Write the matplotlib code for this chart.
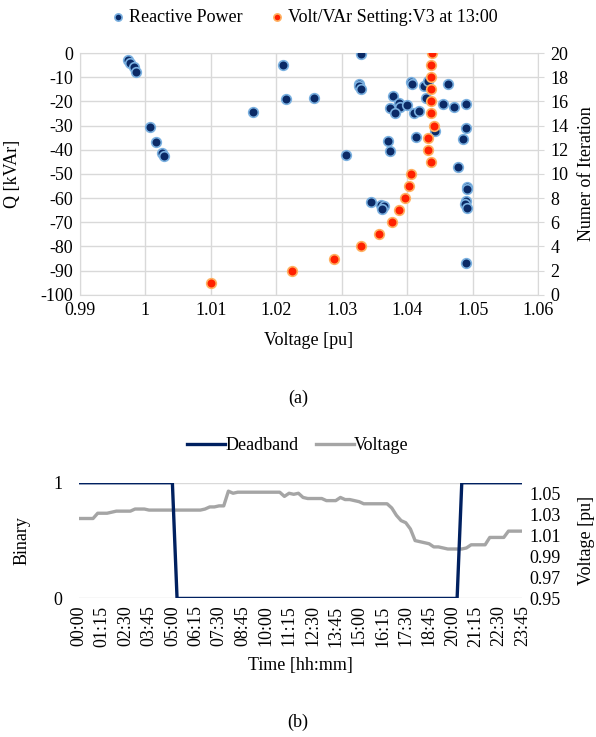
import matplotlib
matplotlib.use("Agg")
import matplotlib.pyplot as plt
import numpy as np

plt.rcParams['font.family'] = ['Liberation Serif', 'DejaVu Serif']
plt.rcParams['font.size'] = 13
plt.rcParams['axes.unicode_minus'] = False

# (a) reactive power vs voltage
q_volt = [0.9973, 0.9976, 0.9982, 0.9985, 1.0007, 1.0016, 1.0026, 1.0028,
          1.0164, 1.0210, 1.0215, 1.0257, 1.0307, 1.0329, 1.0326, 1.0327, 1.0329,
          1.0345, 1.0360, 1.0364, 1.0362, 1.0371, 1.0373,
          1.0378, 1.0374, 1.0388, 1.0389, 1.0382, 1.0400, 1.0411, 1.0418,
          1.0406, 1.0408, 1.0425, 1.0431, 1.0429, 1.0462, 1.0455, 1.0472,
          1.0489, 1.0442, 1.0413, 1.0489, 1.0485,
          1.0477, 1.0491, 1.0492, 1.0489, 1.0488, 1.0492, 1.0489]
q_kvar = [-3.0, -4.0, -5.8, -8.0, -30.4, -36.6, -41.3, -42.5,
          -24.3, -5.1, -19.1, -18.4, -42.2, -0.5, -12.6, -13.7, -14.9,
          -61.6, -63.0, -63.3, -64.6, -36.5, -40.5,
          -17.6, -22.7, -20.6, -22.3, -24.8, -21.3, -25.0, -23.8,
          -12.0, -12.9, -13.7, -11.5, -18.4, -13.0, -20.9, -22.3,
          -21.2, -32.2, -34.7, -31.0, -35.5,
          -47.0, -55.3, -56.4, -61.1, -62.6, -64.0, -86.9]

iteration = list(range(1, 21))
iter_volt = [1.0100, 1.0224, 1.0288, 1.0330, 1.0357, 1.0376, 1.0388, 1.0396,
             1.0402, 1.0405, 1.0436, 1.0431, 1.0431, 1.0441, 1.0436, 1.0436,
             1.0436, 1.0436, 1.0436, 1.0438]

# (b) deadband and voltage over the day
times = ["%02d:%02d" % (h, m) for h in range(24) for m in (0, 15, 30, 45)]
deadband = [1] * 21 + [0] * 61 + [1] * 14
voltage = [1.026, 1.026, 1.026, 1.026, 1.031, 1.031, 1.031, 1.032,
           1.033, 1.033, 1.033, 1.033, 1.035, 1.035, 1.035, 1.034,
           1.034, 1.034, 1.034, 1.034, 1.034, 1.034, 1.034, 1.034,
           1.034, 1.034, 1.034, 1.035, 1.037, 1.037, 1.038, 1.038,
           1.052, 1.050, 1.051, 1.051, 1.051, 1.051, 1.051, 1.051,
           1.051, 1.051, 1.051, 1.051, 1.047, 1.050, 1.049, 1.050,
           1.046, 1.045, 1.045, 1.045, 1.045, 1.043, 1.043, 1.043,
           1.046, 1.044, 1.044, 1.043, 1.042, 1.040, 1.040, 1.040,
           1.040, 1.040, 1.040, 1.036, 1.029, 1.024, 1.022, 1.016,
           1.005, 1.004, 1.003, 1.002, 0.999, 0.999, 0.998, 0.997,
           0.997, 0.997, 0.997, 0.998, 1.001, 1.001, 1.001, 1.001,
           1.008, 1.008, 1.008, 1.008, 1.014, 1.014, 1.014, 1.014]

grid_c = '#d9d9d9'
navy = '#002060'

fig = plt.figure(figsize=(5.96, 7.37), dpi=100)

# ---- top chart
ax1 = fig.add_axes([0.134, 0.600, 0.769, 0.328])
ax1.scatter(q_volt, q_kvar, s=48, color='#0b2a66', edgecolors='#7ab0e0',
            linewidths=1.2, zorder=3, label='Reactive Power')
ax1.set_xlim(0.99, 1.06)
ax1.set_ylim(-100, 0)
ax1.set_xticks(np.arange(0.99, 1.0601, 0.01))
ax1.set_xticklabels(['0.99', '1', '1.01', '1.02', '1.03', '1.04', '1.05', '1.06'])
ax1.set_yticks(np.arange(-100, 1, 10))
ax1.grid(True, color=grid_c, linewidth=1)
ax1.set_axisbelow(True)
for s in ax1.spines.values():
    s.set_color(grid_c)
ax1.tick_params(length=0, pad=5)
ax1.set_xlabel('Voltage [pu]', va='center')
ax1.xaxis.set_label_coords(0.5, -0.19)
ax1.set_ylabel('Q [kVAr]', va='center')
ax1.yaxis.set_label_coords(-0.148, 0.5)

ax1b = ax1.twinx()
ax1b.scatter(iter_volt, iteration, s=48, color='#ff2000', edgecolors='#ffb060',
             linewidths=1.2, zorder=4, label='Volt/VAr Setting:V3 at 13:00')
ax1b.set_ylim(0, 20)
ax1b.set_yticks(range(0, 21, 2))
ax1b.tick_params(length=4, color=grid_c, pad=5)
for s in ax1b.spines.values():
    s.set_visible(False)
ax1b.set_ylabel('Numer of Iteration', va='center')
ax1b.yaxis.set_label_coords(1.106, 0.5)

h1, l1 = ax1.get_legend_handles_labels()
h2, l2 = ax1b.get_legend_handles_labels()
fig.legend(h1 + h2, l1 + l2, loc='center', bbox_to_anchor=(0.51, 0.976), ncol=2,
           frameon=False, handlelength=0.8, handletextpad=0.2, columnspacing=1.5,
           markerscale=0.75)

fig.text(0.5, 0.46, '(a)', ha='center', va='center', fontsize=13)

# ---- bottom chart
x = np.arange(len(times))
ax2 = fig.add_axes([0.1326, 0.188, 0.744, 0.157])
ax2.plot(x, deadband, color=navy, linewidth=2.4, label='Deadband', zorder=3)
ax2.set_ylim(0, 1)
ax2.set_yticks([0, 1])
ax2.set_xlim(0, len(times) - 1)
ax2.set_xticks(x[::5])
ax2.set_xticklabels(times[::5], rotation=90)
ax2.grid(True, axis='y', color=grid_c, linewidth=1)
ax2.set_axisbelow(True)
for s in ax2.spines.values():
    s.set_visible(False)
ax2.tick_params(length=0, pad=5)
ax2.tick_params(axis='y', pad=12)
ax2.set_xlabel('Time [hh:mm]', va='center')
ax2.xaxis.set_label_coords(0.5, -0.58)
ax2.set_ylabel('Binary', va='center')
ax2.yaxis.set_label_coords(-0.128, 0.5)

ax2b = ax2.twinx()
ax2b.plot(x, voltage, color='#a5a5a5', linewidth=2.4, label='Voltage', zorder=2)
ax2b.set_ylim(0.95, 1.06)
ax2b.set_yticks(np.arange(0.95, 1.051, 0.02))
ax2b.set_yticklabels(['0.95', '0.97', '0.99', '1.01', '1.03', '1.05'])
for s in ax2b.spines.values():
    s.set_visible(False)
ax2b.tick_params(length=0, pad=5)
ax2b.set_ylabel('Voltage [pu]', va='center')
ax2b.yaxis.set_label_coords(1.145, 0.5)
ax2.set_zorder(ax2b.get_zorder() + 1)
ax2.patch.set_visible(False)

h1, l1 = ax2.get_legend_handles_labels()
h2, l2 = ax2b.get_legend_handles_labels()
fig.legend(h1 + h2, l1 + l2, loc='center', bbox_to_anchor=(0.5, 0.395), ncol=2,
           frameon=False, handlelength=2.1, handletextpad=0.0, columnspacing=1.0)

fig.text(0.5, 0.0204, '(b)', ha='center', va='center', fontsize=13)

fig.savefig('out.png', dpi=100)
